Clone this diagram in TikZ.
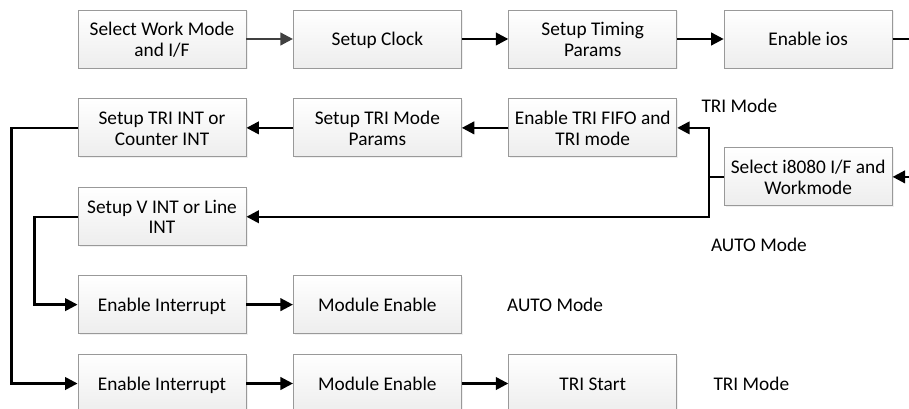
\documentclass[tikz,border=0pt]{standalone}
\usepackage{fontspec}
\setmainfont{Carlito}
\usetikzlibrary{positioning,arrows.meta,shadows}

\begin{document}
\begin{tikzpicture}[node distance=0.6cm and 0.93cm,
  stepbox/.style={rectangle, draw=gray!80, line width=0.5pt, top color=white, bottom color=gray!14, minimum width=3.36cm, minimum height=1.16cm, align=flush center, text width=3.28cm, inner xsep=0.04cm, inner ysep=2pt, font=\fontsize{11}{11.6}\selectfont, execute at begin node={\rule{0pt}{11.4pt}}, execute at end node=\strut, drop shadow={shadow xshift=0.03cm, shadow yshift=-0.03cm, opacity=0.12}},
  modetext/.style={inner sep=0pt, font=\fontsize{11}{11.6}\selectfont},
  arrow/.style={line width=1.4pt, -{Triangle[length=2.5mm,width=2.5mm]}}]

\useasboundingbox (0,0) rectangle (18.18,-8.18);

% Setup chain
\node[stepbox] (mode) at (3.24,-0.78) {Select Work Mode\\and I/F};
\node[stepbox, right=of mode] (clock) {Setup Clock};
\node[stepbox, right=of clock] (timing) {Setup Timing\\Params};
\node[stepbox, right=of timing] (ios) {Enable ios};

% TRI row
\node[stepbox, below=of mode] (triint) {Setup TRI INT or\\Counter INT};
\node[stepbox, below=of clock] (triparams) {Setup TRI Mode\\Params};
\node[stepbox, below=of timing] (trififo) {Enable TRI FIFO and\\TRI mode};

% Interface select
\node[stepbox, below=1.58cm of ios] (i8080) {Select i8080 I/F and\\Workmode};
\coordinate[left=0.29cm of i8080.west] (split);

% AUTO row
\node[stepbox, below=of triint] (vint) {Setup V INT or Line\\INT};

% Start rows
\node[stepbox, below=0.58cm of vint] (autoirq) {Enable Interrupt};
\node[stepbox, right=of autoirq] (autoen) {Module Enable};
\node[stepbox, below=0.4cm of autoirq] (triirq) {Enable Interrupt};
\node[stepbox, right=of triirq] (trien) {Module Enable};
\node[stepbox, right=of trien] (tristart) {TRI Start};

% Mode labels
\node[modetext, right=0.48cm of trififo, yshift=0.44cm] (trilabel) {TRI Mode};
\node[modetext, anchor=west, xshift=-0.26cm, yshift=-1.36cm] (autolabel) at (i8080.west) {AUTO Mode};
\node[modetext, right=0.9cm of autoen] (autolabelb) {AUTO Mode};
\node[modetext, right=0.72cm of tristart] (trilabelb) {TRI Mode};

% Arrows
\draw[arrow, black!75] (mode) -- (clock);
\draw[arrow] (clock) -- (timing);
\draw[arrow] (timing) -- (ios);
\draw[arrow] (ios.east) -- ++(0.6,0) |- (i8080.east);
\draw[line width=1.4pt] (i8080.west) -- (split);
\draw[arrow] (split) |- (trififo.east);
\draw[arrow] (split) |- (vint.east);
\draw[arrow] (trififo) -- (triparams);
\draw[arrow] (triparams) -- (triint);
\draw[arrow] (vint.west) -- ++(-0.86,0) |- (autoirq.west);
\draw[arrow] (triint.west) -- ++(-1.32,0) |- (triirq.west);
\draw[arrow] (autoirq) -- (autoen);
\draw[arrow] (triirq) -- (trien);
\draw[arrow] (trien) -- (tristart);

\end{tikzpicture}
\end{document}
